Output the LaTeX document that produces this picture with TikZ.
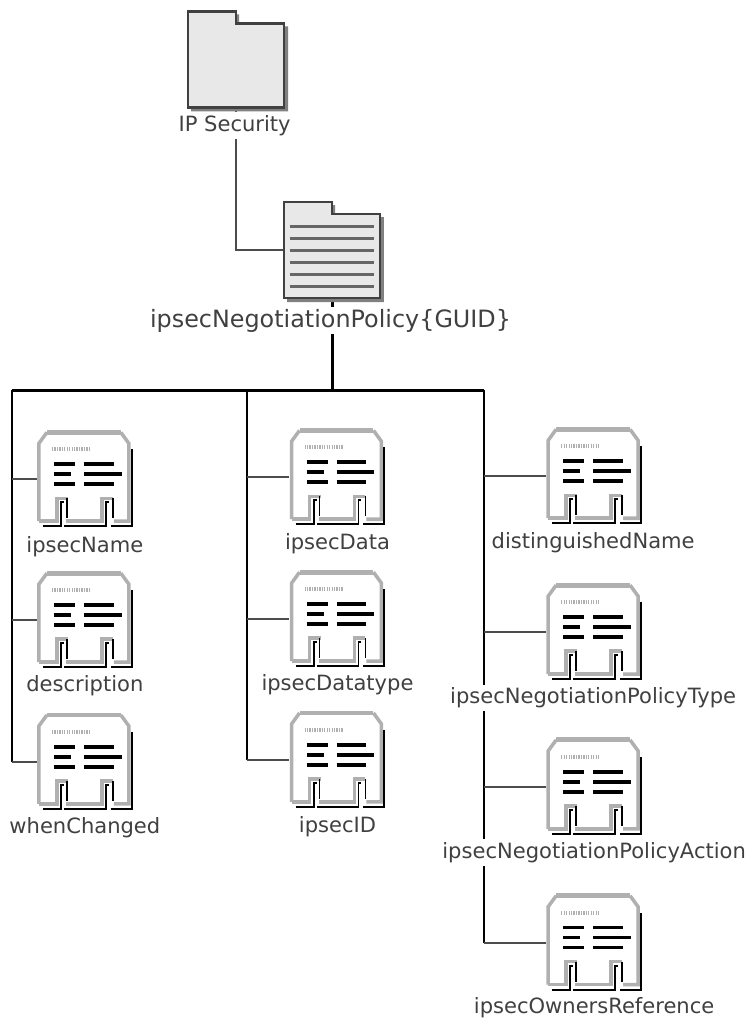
\documentclass[tikz,border=0pt]{standalone}
\usepackage{fontspec}
\setmainfont{DejaVu Sans}
\usepackage{xcolor}
\usetikzlibrary{positioning,backgrounds}
\definecolor{edgegray}{HTML}{B0B0B0}
\definecolor{foldergray}{HTML}{E8E8E8}
\definecolor{textgray}{HTML}{404040}

\begin{document}
\begin{tikzpicture}[
    % GLOBAL CFG
    x=0.02cm,
    y=-0.02cm,
    font=\fontsize{12pt}{14pt}\selectfont,
    % Styles
    body/.style={% For the invisible box of an icon
        rectangle,
        minimum width=1.92cm,
        minimum height=1.92cm,
        inner sep=0pt,
        },
    caption/.style={% For the names under the icons
        fill=white,
        text=textgray,
        inner sep=1pt,
        minimum height=.54cm,
        },
    bar/.style={% For the text rows in the attribute icon
        line width=2.1pt,
        black,
        },
    rule/.style={% For the rows in the folder
        line width=1.4pt,
        black!60,
        },
    edge/.style={% Grey rim of the attribute icon
        line width=2pt,
        edgegray,
        },
    rim/.style={% Black rim of the attribute icon
        line width=1.1pt,
        black,
        },
    thinlink/.style={% Side branches
        line width=1.2pt,
        black!70,
        },
    biglink/.style={% The main bus
        line width=1.7pt,
        black,
        },
    folder/.pic={
        \node [body] (-body) {};
        \fill [black!50] (-45,-45) -- (3,-45) -- (3,-33) -- (52,-33) -- (52,52) -- (-45,52) -- cycle;
        \draw [line width=1.4pt, black!75, fill=foldergray] (-48,-48) -- (0,-48) -- (0,-36) -- (48,-36) -- (48,48) -- (-48,48) -- cycle;
        },
    attrib/.pic={
        \node [body] (-body) {};
        % Grey outline
        \fill [white] (-46,44) -- (-46,-36) -- (-38,-47) -- (36,-47) -- (44,-36) -- (44,44) -- cycle;
        \draw [edge] (-46,42) -- (-46,-36) -- (-38,-47);
        \draw [edge, line width=2.8pt] (-38,-47) -- (36,-47);
        \draw [edge] (36,-47) -- (44,-36) -- (44,42) -- (29,42);
        % Hatched title
        \draw [edgegray, line width=2.4pt, dash pattern=on .7pt off .7pt] (-33,-30) -- (5,-30);
        % Rows
        \draw [bar] (-31,-15) -- (-10,-15);
        \draw [bar] (-31,-5) -- (-14,-5);
        \draw [bar] (-31,5) -- (-10,5);
        \draw [bar] (-1,-15) -- (29,-15);
        \draw [bar] (-1,-5) -- (37,-5);
        \draw [bar] (-1,5) -- (29,5);
        % Feet, grey part
        \draw [edge] (-46,42) -- (-28,42) -- (-28,19) -- (-17,19);
        \draw [edge] (-19,42) -- (17,42) -- (17,19) -- (28,19);
        % Feet, black part
        \draw [rim] (-42,47) -- (-24,47) -- (-24,23) -- (-21,23);
        \draw [rim] (-18,19) -- (-18,39);
        \draw [rim] (-21,47) -- (21,47) -- (21,23) -- (24,23);
        \draw [rim] (28,19) -- (28,39);
        \draw [rim] (26,47) -- (47,47) -- (47,-30);
        },
    ]

    % Draw the folders
    \pic (root) at (236.5,59.5) {folder};
    \pic (policy) at (332.5,250.5) {folder};
    % Rows of the second folder
    \draw [rule] (290,227) -- (375,227);
    \draw [rule] (290,239) -- (375,239);
    \draw [rule] (290,251) -- (375,251);
    \draw [rule] (290,263) -- (375,263);
    \draw [rule] (290,275) -- (375,275);
    \draw [rule] (290,287) -- (375,287);

    % Draw attributes named attr#
    \pic (attr1) at (85,480) {attrib};
    \pic (attr2) at (85,621) {attrib};
    \pic (attr3) at (85,763) {attrib};
    \pic (attr4) at (338,478) {attrib};
    \pic (attr5) at (338,620) {attrib};
    \pic (attr6) at (338,761) {attrib};
    \pic (attr7) at (595,477) {attrib};
    \pic (attr8) at (595,633) {attrib};
    \pic (attr9) at (595,788) {attrib};
    \pic (attr10) at (595,944) {attrib};

    % Draw names
    \node [caption] (rootname) at (235,126) {IP Security};
    \node [caption, font=\fontsize{13.6pt}{16pt}\selectfont] (policyname) at (331,321) {ipsecNegotiationPolicy\{GUID\}};
    \node [caption] (name1) at (85,547) {ipsecName};
    \node [caption] (name2) at (85,687) {description};
    \node [caption] (name3) at (85,829) {whenChanged};
    \node [caption] (name4) at (338,544) {ipsecData};
    \node [caption] (name5) at (338,686) {ipsecDatatype};
    \node [caption] (name6) at (338,828) {ipsecID};
    \node [caption] (name7) at (594,543) {distinguishedName};
    \node [caption] (name8) at (594,699) {ipsecNegotiationPolicyType};
    \node [caption] (name9) at (595,854) {ipsecNegotiationPolicyAction};
    \node [caption] (name10) at (595,1009) {ipsecOwnersReference};

    % Points on the bus
    \coordinate (busmid) at (332.5,391);
    \coordinate (busa) at (12,391);
    \coordinate (busb) at (247,391);
    \coordinate (busc) at (485,391);

    % Start connecting all, behind the names
    \begin{scope}[on background layer]
    \draw [thinlink] (root-body.south) -- (root-body |- policy-body) -- (policy-body.west);
    \draw [biglink] (policy-body.south) -- (busmid);
    \draw [biglink] (busa) -- (busc);

    \draw [biglink, line width=1.3pt] (busa) -- (busa |- attr3-body);
    \draw [thinlink] (busa |- attr1-body) -- (attr1-body.west);
    \draw [thinlink] (busa |- attr2-body) -- (attr2-body.west);
    \draw [thinlink] (busa |- attr3-body) -- (attr3-body.west);

    \draw [biglink, line width=1.3pt] (busb) -- (busb |- attr6-body);
    \draw [thinlink] (busb |- attr4-body) -- (attr4-body.west);
    \draw [thinlink] (busb |- attr5-body) -- (attr5-body.west);
    \draw [thinlink] (busb |- attr6-body) -- (attr6-body.west);

    \draw [biglink, line width=1.3pt] (busc) -- (busc |- attr10-body);
    \draw [thinlink] (busc |- attr7-body) -- (attr7-body.west);
    \draw [thinlink] (busc |- attr8-body) -- (attr8-body.west);
    \draw [thinlink] (busc |- attr9-body) -- (attr9-body.west);
    \draw [thinlink] (busc |- attr10-body) -- (attr10-body.west);
    \end{scope}

    \useasboundingbox (0,0) rectangle (746,1021);
\end{tikzpicture}
\end{document}
